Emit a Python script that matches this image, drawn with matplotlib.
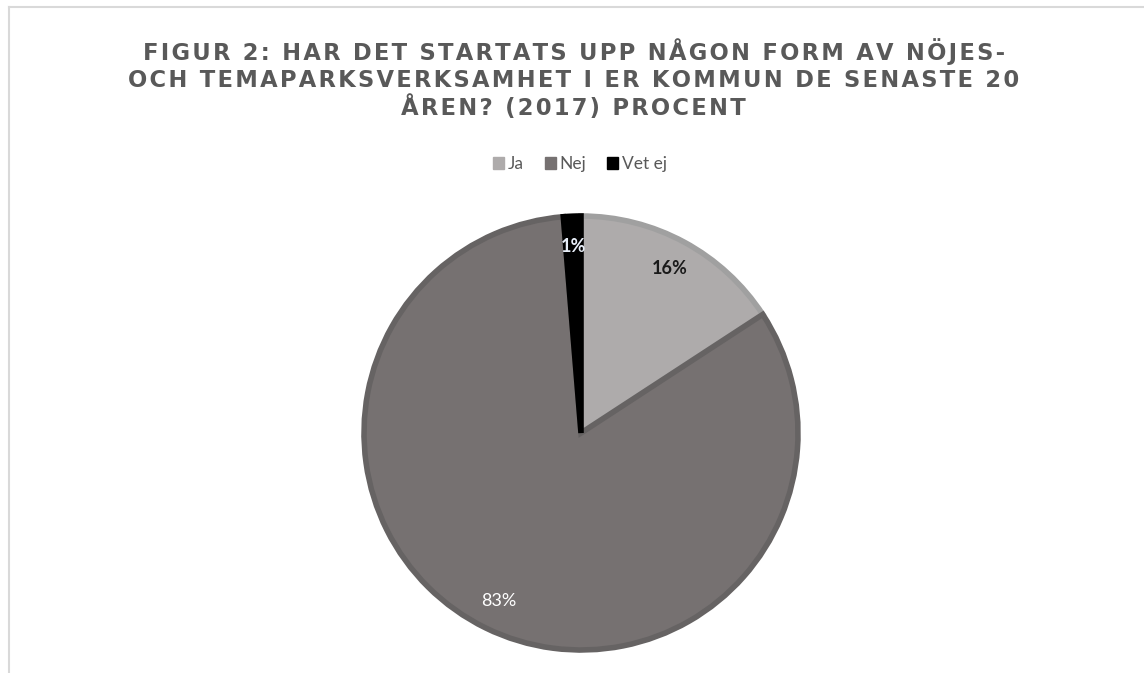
import matplotlib.pyplot as plt
from matplotlib.patches import Rectangle
from matplotlib.lines import Line2D

# Data
labels = ['Ja', 'Nej', 'Vet ej']
values = [15.8, 82.9, 1.3]
colors = ['#aeabab', '#767171', '#000000']
edge_colors = ['#a0a0a0', '#666363', '#000000']
pct_colors = ['#1a1a1a', '#ffffff', '#e8eef8']

title_lines = ['FIGUR 2: HAR DET STARTATS UPP NÅGON FORM AV NÖJES-',
               'OCH TEMAPARKSVERKSAMHET I ER KOMMUN DE SENASTE 20',
               'ÅREN? (2017) PROCENT']

fig = plt.figure(figsize=(11.44, 6.73), dpi=100)
fig.patch.set_facecolor('white')

# thin frame on top and left like the original screenshot
fig.add_artist(Line2D([9 / 1144, 9 / 1144], [0, 1 - 7 / 673], color='#d9d9d9', lw=1.5))
fig.add_artist(Line2D([9 / 1144, 1], [1 - 7 / 673, 1 - 7 / 673], color='#d9d9d9', lw=1.5))

# letter spacing imitated with hair spaces
spaced = '\n'.join('\u200a'.join(line) for line in title_lines)
fig.text(0.5015, 1 - 38 / 673, spaced, ha='center', va='top', fontsize=16.3,
         fontweight='bold', color='#595959', family='DejaVu Sans',
         linespacing=1.2)

ax = fig.add_axes([364 / 1144, 23 / 673, 434 / 1144, 434 / 673])
wedges, texts, autotexts = ax.pie(
    values, colors=colors, startangle=90, counterclock=False,
    autopct='%1.0f%%', pctdistance=0.86,
    wedgeprops=dict(linewidth=4, linestyle='-'),
    textprops=dict(fontsize=13, family='Lato'))
for w, ec in zip(wedges, edge_colors):
    w.set_edgecolor(ec)
for t, c in zip(autotexts, pct_colors):
    t.set_color(c)
autotexts[0].set_fontweight('bold')
autotexts[2].set_fontweight('bold')
ax.set_xlim(-1, 1)
ax.set_ylim(-1, 1)
ax.set_aspect('equal')

handles = [Rectangle((0, 0), 1, 1, color=c) for c in colors]
fig.legend(handles, labels, loc='center', bbox_to_anchor=(0.507, 1 - 164 / 673),
           ncol=3, frameon=False, handlelength=0.65, handleheight=0.65,
           handletextpad=0.2, columnspacing=1.2,
           prop=dict(family='Lato', size=12.5), labelcolor='#595959')

fig.savefig('out.png', dpi=100)
